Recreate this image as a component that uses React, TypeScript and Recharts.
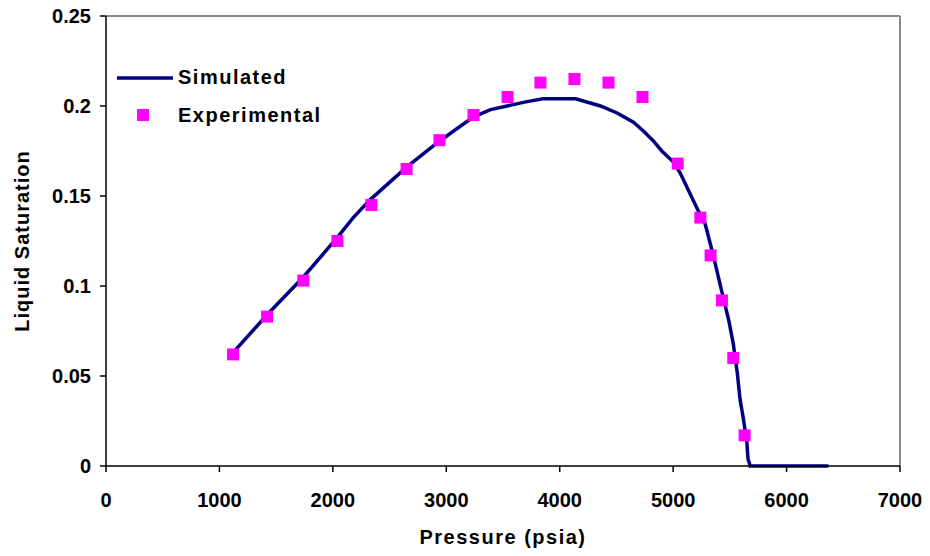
import {
  ComposedChart,
  Line,
  Scatter,
  XAxis,
  YAxis,
  ReferenceLine,
} from "recharts";

// simulated curve: pressure (psia) vs liquid saturation
const simPressure = [
  1120, 1420, 1740, 2040, 2180, 2330, 2650, 2930, 3240, 3390, 3680, 3850,
  4140, 4360, 4510, 4650, 4740, 4820, 4900, 5000, 5060, 5220, 5280, 5350,
  5440, 5490, 5530, 5565, 5590, 5620, 5650, 5660, 5680, 6370,
];
const simSaturation = [
  0.063, 0.084, 0.105, 0.127, 0.138, 0.148, 0.166, 0.18, 0.194, 0.198, 0.202,
  0.204, 0.204, 0.2, 0.196, 0.191, 0.186, 0.181, 0.175, 0.169, 0.163, 0.142,
  0.135, 0.118, 0.094, 0.081, 0.068, 0.052, 0.037, 0.026, 0.013, 0.004, 0, 0,
];

// experimental points
const expPressure = [
  1120, 1420, 1740, 2040, 2340, 2650, 2940, 3240, 3540, 3830, 4130, 4430,
  4730, 5040, 5240, 5330, 5430, 5530, 5630,
];
const expSaturation = [
  0.062, 0.083, 0.103, 0.125, 0.145, 0.165, 0.181, 0.195, 0.205, 0.213, 0.215,
  0.213, 0.205, 0.168, 0.138, 0.117, 0.092, 0.06, 0.017,
];

const xTicks = [0, 1000, 2000, 3000, 4000, 5000, 6000, 7000];
const yTicks = [0, 0.05, 0.1, 0.15, 0.2, 0.25];

const simulated = simPressure.map((p, i) => ({ p, s: simSaturation[i] }));
const experimental = expPressure.map((p, i) => ({ p, s: expSaturation[i] }));

const font = "'Liberation Sans', Arial, sans-serif";
const tickStyle = { fontSize: 20, fontWeight: 700, fill: "#000", fontFamily: font };
const titleStyle = { fontSize: 20, fontWeight: 700, fontFamily: font, letterSpacing: 1.5 };

const SquareDot = (props: any) => {
  const { cx, cy } = props;
  return <rect x={cx - 6} y={cy - 6} width={12} height={12} fill="#FF00FF" />;
};

const App = () => {
  return (
    <div style={{ position: "absolute", left: 0, top: 0, background: "#fff" }}>
      <ComposedChart
        width={930}
        height={556}
        margin={{ top: 16, right: 30, bottom: 30, left: 46 }}
      >
        <XAxis
          dataKey="p"
          type="number"
          domain={[0, 7000]}
          ticks={xTicks}
          allowDuplicatedCategory={false}
          height={60}
          tick={tickStyle}
          tickSize={6}
          tickMargin={21}
          stroke="#000"
          strokeWidth={1.5}
        />
        <YAxis
          dataKey="s"
          type="number"
          domain={[0, 0.25]}
          ticks={yTicks}
          width={60}
          tick={tickStyle}
          tickSize={6}
          tickMargin={9}
          tickFormatter={(v: number) => String(v)}
          stroke="#000"
          strokeWidth={1.5}
        />
        <ReferenceLine y={0.25} stroke="#8a8a8a" strokeWidth={2} />
        <ReferenceLine x={7000} stroke="#8a8a8a" strokeWidth={2} />
        <Line
          data={simulated}
          dataKey="s"
          name="Simulated"
          type="linear"
          stroke="#000080"
          strokeWidth={3.5}
          dot={false}
          activeDot={false}
          isAnimationActive={false}
        />
        <Scatter
          data={experimental}
          dataKey="s"
          name="Experimental"
          shape={<SquareDot />}
          isAnimationActive={false}
        />
        {/* legend */}
        <line x1={117} y1={78} x2={173} y2={78} stroke="#000080" strokeWidth={3.5} />
        <text x={178} y={84} style={titleStyle}>Simulated</text>
        <rect x={137} y={109} width={12} height={12} fill="#FF00FF" />
        <text x={178} y={122} style={titleStyle}>Experimental</text>
        {/* axis titles */}
        <text x={503} y={544} textAnchor="middle" style={titleStyle}>
          Pressure (psia)
        </text>
        <text
          x={29}
          y={241}
          textAnchor="middle"
          transform="rotate(-90 29 241)"
          style={{ ...titleStyle, letterSpacing: 1 }}
        >
          Liquid Saturation
        </text>
      </ComposedChart>
    </div>
  );
};

export default App;
